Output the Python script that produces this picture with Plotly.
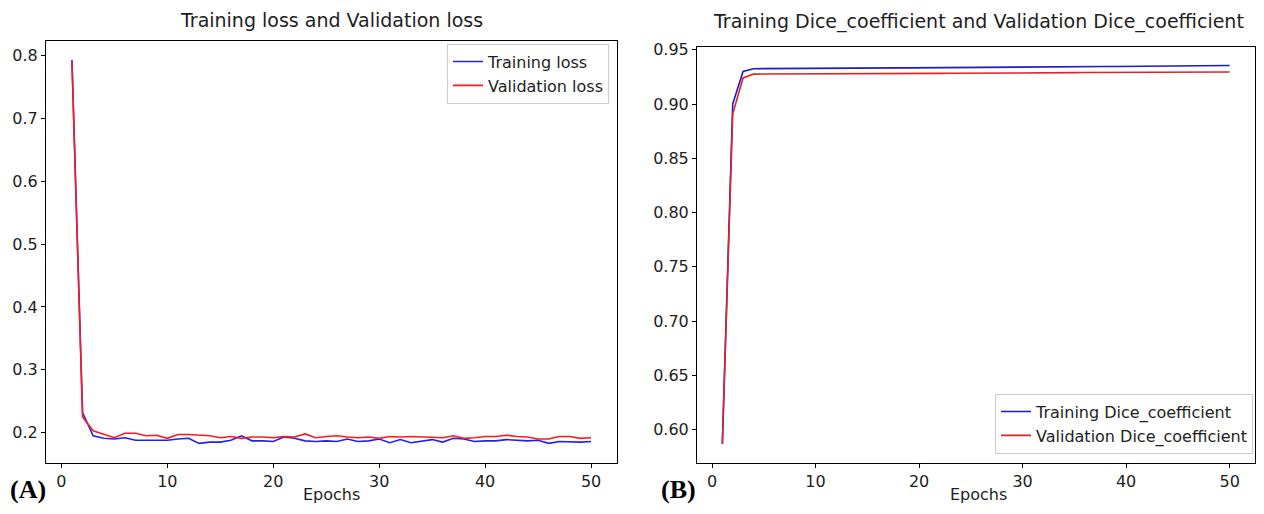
import plotly.graph_objects as go

epochs = list(range(1, 51))

train_loss = [0.793, 0.232, 0.195, 0.191, 0.190, 0.192, 0.188, 0.188, 0.189, 0.188,
              0.190, 0.191, 0.183, 0.185, 0.185, 0.188, 0.195, 0.187, 0.187, 0.186,
              0.193, 0.191, 0.187, 0.186, 0.187, 0.186, 0.190, 0.186, 0.187, 0.190,
              0.184, 0.189, 0.184, 0.187, 0.189, 0.185, 0.191, 0.190, 0.186, 0.187,
              0.187, 0.189, 0.188, 0.187, 0.188, 0.183, 0.186, 0.185, 0.185, 0.186]
val_loss = [0.790, 0.225, 0.203, 0.198, 0.192, 0.199, 0.199, 0.195, 0.196, 0.191,
            0.197, 0.197, 0.196, 0.195, 0.192, 0.194, 0.191, 0.193, 0.193, 0.192,
            0.194, 0.193, 0.198, 0.192, 0.194, 0.195, 0.193, 0.192, 0.193, 0.191,
            0.194, 0.193, 0.194, 0.193, 0.192, 0.192, 0.195, 0.191, 0.192, 0.194,
            0.194, 0.196, 0.194, 0.193, 0.190, 0.190, 0.194, 0.194, 0.191, 0.192]

train_dice = [0.587, 0.900, 0.930, 0.9325, 0.9326, 0.9327, 0.9327, 0.9328, 0.9328, 0.9329,
              0.9329, 0.9330, 0.9330, 0.9331, 0.9331, 0.9332, 0.9332, 0.9333, 0.9333, 0.9334,
              0.9334, 0.9335, 0.9335, 0.9336, 0.9336, 0.9337, 0.9337, 0.9338, 0.9338, 0.9339,
              0.9340, 0.9341, 0.9341, 0.9342, 0.9343, 0.9344, 0.9345, 0.9346, 0.9346, 0.9347,
              0.9348, 0.9349, 0.9350, 0.9351, 0.9351, 0.9352, 0.9353, 0.9354, 0.9354, 0.9355]
val_dice = [0.587, 0.891, 0.924, 0.9275, 0.9276, 0.9276, 0.9277, 0.9277, 0.9277, 0.9278,
            0.9278, 0.9278, 0.9279, 0.9279, 0.9279, 0.9280, 0.9280, 0.9281, 0.9281, 0.9281,
            0.9282, 0.9282, 0.9283, 0.9283, 0.9284, 0.9285, 0.9285, 0.9286, 0.9286, 0.9287,
            0.9287, 0.9288, 0.9288, 0.9289, 0.9289, 0.9290, 0.9290, 0.9291, 0.9291, 0.9292,
            0.9292, 0.9293, 0.9293, 0.9294, 0.9294, 0.9294, 0.9295, 0.9295, 0.9295, 0.9295]

x_ticks = [0, 10, 20, 30, 40, 50]
loss_ticks = [0.2, 0.3, 0.4, 0.5, 0.6, 0.7, 0.8]
dice_ticks = [0.60, 0.65, 0.70, 0.75, 0.80, 0.85, 0.90, 0.95]

# page has an 8px body margin; figure fills the rest
PAGE_OFF = 8
W, H = 1264 - 2 * PAGE_OFF, 514 - 2 * PAGE_OFF
FONT = "DejaVu Sans"
TXT = "#1e1e1e"


def px(x):
    return min(1.0, max(0.0, (x - PAGE_OFF) / W))


def py(y):
    return min(1.0, max(0.0, 1 - (y - PAGE_OFF) / H))


fig = go.Figure()
fig.add_trace(go.Scatter(x=epochs, y=train_loss, mode="lines", name="Training loss",
                         line=dict(color="#2020ff", width=1.6), xaxis="x", yaxis="y", legend="legend"))
fig.add_trace(go.Scatter(x=epochs, y=val_loss, mode="lines", name="Validation loss",
                         line=dict(color="#ff1a1a", width=1.6), xaxis="x", yaxis="y", legend="legend"))
fig.add_trace(go.Scatter(x=epochs, y=train_dice, mode="lines", name="Training Dice_coefficient",
                         line=dict(color="#1c1cc4", width=1.6), xaxis="x2", yaxis="y2", legend="legend2"))
fig.add_trace(go.Scatter(x=epochs, y=val_dice, mode="lines", name="Validation Dice_coefficient",
                         line=dict(color="#e02424", width=1.6), xaxis="x2", yaxis="y2", legend="legend2"))

axis_common = dict(showline=True, mirror=True, linecolor="black", linewidth=1,
                   ticks="outside", ticklen=4, tickcolor="black", showgrid=False,
                   zeroline=False, tickfont=dict(family=FONT, size=16, color=TXT))

fig.update_layout(
    width=W, height=H,
    margin=dict(l=0, r=0, t=0, b=0),
    paper_bgcolor="white", plot_bgcolor="white",
    font=dict(family=FONT, color=TXT),
    xaxis=dict(domain=[px(46), px(617)], range=[-1.45, 52.45], tickvals=x_ticks,
               anchor="y", **axis_common),
    yaxis=dict(domain=[py(462), py(35)], range=[0.1525, 0.8235], tickvals=loss_ticks,
               ticktext=[f"{v:.1f}" for v in loss_ticks], anchor="x", **axis_common),
    xaxis2=dict(domain=[px(697), px(1255)], range=[-1.45, 52.45], tickvals=x_ticks,
                anchor="y2", **axis_common),
    yaxis2=dict(domain=[py(462), py(41)], range=[0.5696, 0.9529], tickvals=dice_ticks,
                ticktext=[f"{v:.2f}" for v in dice_ticks], anchor="x2", **axis_common),
    legend=dict(x=px(609), y=py(38), xanchor="right", yanchor="top",
                bordercolor="#cccccc", borderwidth=1, bgcolor="rgba(255,255,255,0.8)",
                font=dict(family=FONT, size=16, color=TXT), tracegroupgap=0),
    legend2=dict(x=px(1253), y=py(453), xanchor="right", yanchor="bottom",
                 bordercolor="#cccccc", borderwidth=1, bgcolor="rgba(255,255,255,0.8)",
                 font=dict(family=FONT, size=16, color=TXT), tracegroupgap=0),
    showlegend=True,
)

annotations = [
    dict(text="Training loss and Validation loss", x=px(331), y=py(14), xref="paper", yref="paper",
         xanchor="center", yanchor="middle", showarrow=False, font=dict(family=FONT, size=19, color=TXT)),
    dict(text="Training Dice_coefficient and Validation Dice_coefficient", x=px(978), y=py(16),
         xref="paper", yref="paper", xanchor="center", yanchor="middle", showarrow=False,
         font=dict(family=FONT, size=19, color=TXT)),
    dict(text="Epochs", x=px(331), y=0, xref="paper", yref="paper", xanchor="center",
         yanchor="bottom", showarrow=False, font=dict(family=FONT, size=16, color=TXT)),
    dict(text="Epochs", x=px(978), y=0, xref="paper", yref="paper", xanchor="center",
         yanchor="bottom", showarrow=False, font=dict(family=FONT, size=16, color=TXT)),
    dict(text="<b>(A)</b>", x=px(8), y=0, xref="paper", yref="paper", xanchor="left",
         yanchor="bottom", showarrow=False, font=dict(family="Liberation Serif", size=26, color="black")),
    dict(text="<b>(B)</b>", x=px(659), y=0, xref="paper", yref="paper", xanchor="left",
         yanchor="bottom", showarrow=False, font=dict(family="Liberation Serif", size=26, color="black")),
]
fig.update_layout(annotations=annotations)

fig.write_html("out.html")
